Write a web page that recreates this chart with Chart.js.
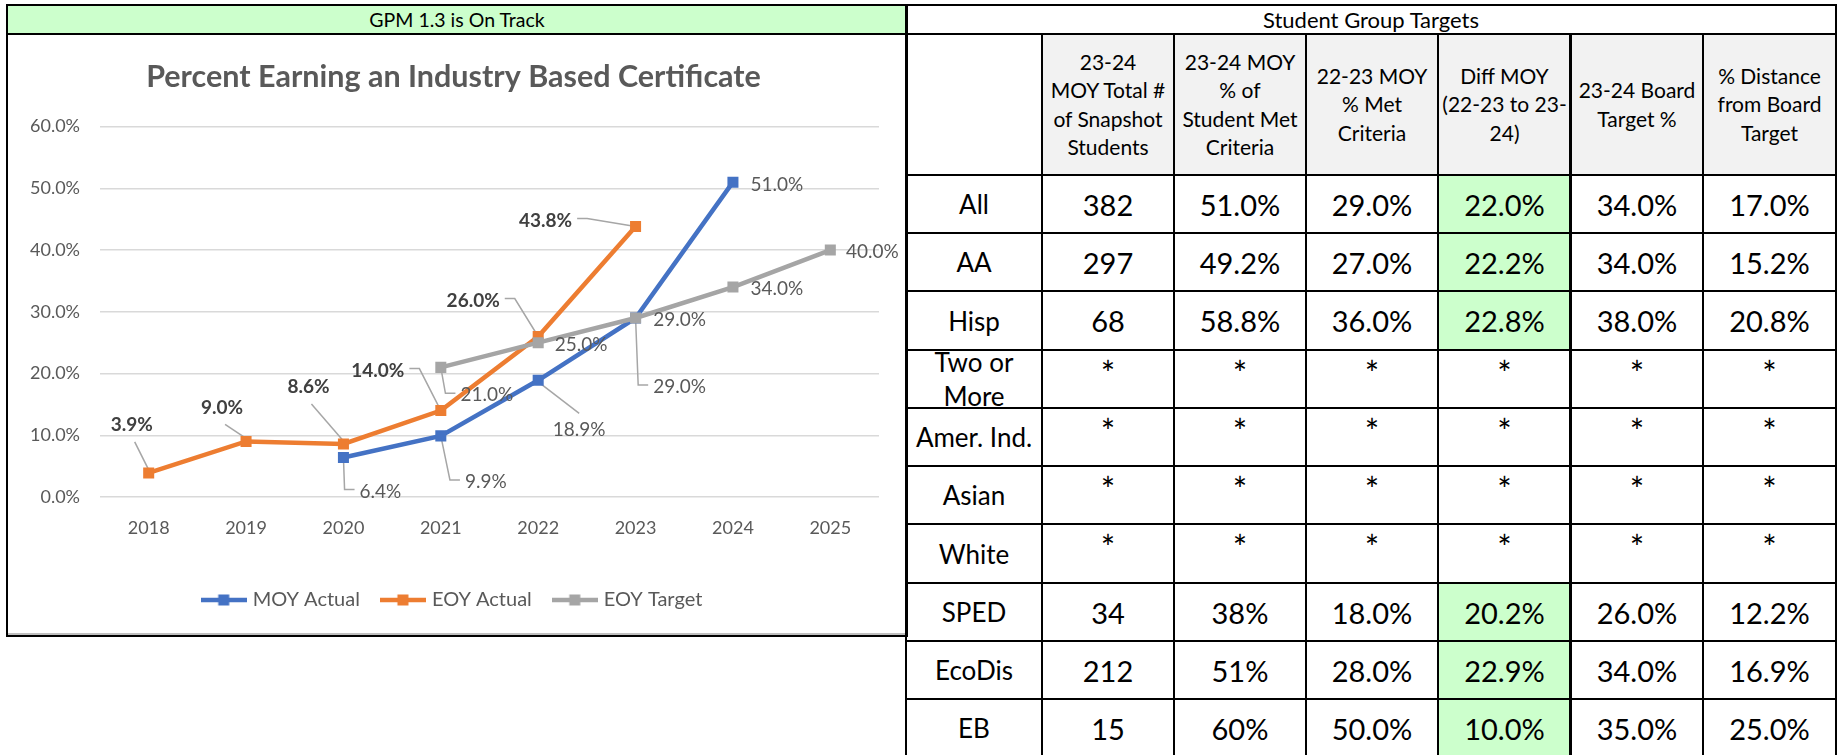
<!DOCTYPE html>
<html>
<head>
<meta charset="utf-8">
<script src="https://cdn.jsdelivr.net/npm/chart.js@4.4.1/dist/chart.umd.min.js"></script>
<style>
  body { margin: 0; width: 1837px; height: 755px; overflow: hidden; background: #fff;
         font-family: Lato, "Open Sans", sans-serif; color: #000; }
  #gpm { position: absolute; left: 6px; top: 4px; width: 902px; height: 31px; box-sizing: border-box;
         border: 2px solid #000; background: #ccffcc; text-align: center; font-size: 19.5px; line-height: 27px; }
  #chartBox { position: absolute; left: 6px; top: 33px; width: 902px; height: 604px; box-sizing: border-box;
              border: 2px solid #000; box-shadow: inset 0 -2px 0 #bfbfbf; }
  #chart { position: absolute; left: 8px; top: 35px; }
  .cell { position: absolute; box-sizing: border-box; border: 2px solid #000; display: flex;
          align-items: center; justify-content: center; text-align: center; white-space: nowrap; overflow: visible; }
  .title { font-size: 22px; }
  .head { background: #f2f2f2; font-size: 21px; line-height: 28.5px; }
  .grp { font-size: 26px; line-height: 34px; white-space: normal; }
  .val { font-size: 29px; }
  .star { font-size: 34px; padding-bottom: 14px; }
  .green { background: #ccffcc; }
</style>
</head>
<body>
<div id="gpm">GPM 1.3 is On Track</div>
<div id="chartBox"></div>
<canvas id="chart" width="897" height="599"></canvas>
<div id="table"></div>
<script>
// chart data
const years = ['2018', '2019', '2020', '2021', '2022', '2023', '2024', '2025'];
const moyActual = [null, null, 6.4, 9.9, 18.9, 29.0, 51.0, null];
const eoyActual = [3.9, 9.0, 8.6, 14.0, 26.0, 43.8, null, null];
const eoyTarget = [null, null, null, 21.0, 25.0, 29.0, 34.0, 40.0];

// table data
const tableTitle = 'Student Group Targets';
const headerLines = [
  ['23-24', 'MOY Total #', 'of Snapshot', 'Students'],
  ['23-24 MOY', '% of', 'Student Met', 'Criteria'],
  ['22-23 MOY', '% Met', 'Criteria'],
  ['Diff MOY', '(22-23 to 23-', '24)'],
  ['23-24 Board', 'Target %'],
  ['% Distance', 'from Board', 'Target']
];
const groups = ['All', 'AA', 'Hisp', 'Two or More', 'Amer. Ind.', 'Asian', 'White', 'SPED', 'EcoDis', 'EB'];
const snapshotTotal = ['382', '297', '68', '*', '*', '*', '*', '34', '212', '15'];
const moyPctMet = ['51.0%', '49.2%', '58.8%', '*', '*', '*', '*', '38%', '51%', '60%'];
const prevMoyPctMet = ['29.0%', '27.0%', '36.0%', '*', '*', '*', '*', '18.0%', '28.0%', '50.0%'];
const diffMoy = ['22.0%', '22.2%', '22.8%', '*', '*', '*', '*', '20.2%', '22.9%', '10.0%'];
const boardTarget = ['34.0%', '34.0%', '38.0%', '*', '*', '*', '*', '26.0%', '34.0%', '35.0%'];
const distFromTarget = ['17.0%', '15.2%', '20.8%', '*', '*', '*', '*', '12.2%', '16.9%', '25.0%'];

// ---- table layout ----
const colEdges = [906, 1042, 1174, 1306, 1438, 1571, 1703, 1836];
const rowEdges = [5, 34, 175, 233, 291, 350, 408, 466, 524, 583, 641, 699, 757];
const tableEl = document.getElementById('table');

function addCell(c0, c1, r, html, cls) {
  const d = document.createElement('div');
  d.className = 'cell ' + cls;
  let x0 = colEdges[c0] - 1, x1 = colEdges[c1] + 1;
  if (c0 === 5 && r > 0) { x0 -= 1; d.style.borderLeftWidth = '3px'; }
  d.style.left = x0 + 'px';
  d.style.top = (rowEdges[r] - 1) + 'px';
  d.style.width = (x1 - x0) + 'px';
  d.style.height = (rowEdges[r + 1] - rowEdges[r] + 2) + 'px';
  d.innerHTML = html;
  tableEl.appendChild(d);
}

addCell(0, 7, 0, tableTitle, 'title');
addCell(0, 1, 1, '', '');
headerLines.forEach((lines, i) => addCell(i + 1, i + 2, 1, lines.join('<br>'), 'head'));
const columns = [snapshotTotal, moyPctMet, prevMoyPctMet, diffMoy, boardTarget, distFromTarget];
groups.forEach((g, r) => {
  addCell(0, 1, r + 2, g, 'grp');
  columns.forEach((col, c) => {
    const v = col[r];
    const cls = v === '*' ? 'val star' : (c === 3 ? 'val green' : 'val');
    addCell(c + 1, c + 2, r + 2, v, cls);
  });
});

// ---- chart ----
const FONT = 'Lato, "Open Sans", sans-serif';
Chart.defaults.font.family = FONT;

function legendIcon(color) {
  const c = document.createElement('canvas');
  c.width = 46; c.height = 14;
  const g = c.getContext('2d');
  g.strokeStyle = color; g.lineWidth = 4.5;
  g.beginPath(); g.moveTo(0, 7); g.lineTo(46, 7); g.stroke();
  g.fillStyle = color; g.fillRect(17.5, 1.5, 11, 11);
  return c;
}

// label placement relative to each point: dx, dy to text centre, leader style
const labelSpots = [
  [null, null, { dx: 37, dy: 34, lead: 'right' }, { dx: 45, dy: 46, lead: 'right' },
   { dx: 41, dy: 50, lead: 'up' }, { dx: 44, dy: 69, lead: 'right' }, { dx: 44, dy: 3 }, null],
  [{ dx: -17, dy: -48, lead: 'down' }, { dx: -24, dy: -34, lead: 'down' }, { dx: -35, dy: -57, lead: 'down' },
   { dx: -63, dy: -40, lead: 'left' }, { dx: -65, dy: -36, lead: 'left' }, { dx: -90, dy: -6, lead: 'left' }, null, null],
  [null, null, null, { dx: 46, dy: 28, lead: 'right' }, { dx: 43, dy: 2 }, { dx: 44, dy: 2 },
   { dx: 44, dy: 2 }, { dx: 42, dy: 2 }]
];
const labelBold = [false, true, false];

function labelFont(di) {
  return (labelBold[di] ? 'bold ' : '') + '19px ' + FONT;
}

const dataLabels = {
  id: 'dataLabels',
  beforeDatasetsDraw(chart) {
    const ctx = chart.ctx;
    ctx.save();
    ctx.strokeStyle = '#a6a6a6';
    ctx.lineWidth = 1.5;
    chart.data.datasets.forEach((ds, di) => {
      const meta = chart.getDatasetMeta(di);
      ds.data.forEach((v, i) => {
        const s = labelSpots[di][i];
        if (v == null || !s || !s.lead) return;
        const p = meta.data[i];
        const lx = p.x + s.dx, ly = p.y + s.dy;
        ctx.font = labelFont(di);
        const hw = ctx.measureText(v.toFixed(1) + '%').width / 2;
        ctx.beginPath();
        if (s.lead === 'down') {
          ctx.moveTo(lx + 3, ly + 17);
          ctx.lineTo(p.x, p.y - 3);
        } else if (s.lead === 'up') {
          ctx.moveTo(lx, ly - 17);
          ctx.lineTo(p.x + 2, p.y + 3);
        } else if (s.lead === 'left') {
          ctx.moveTo(lx + hw + 5, ly - 2);
          ctx.lineTo(lx + hw + 15, ly - 2);
          ctx.lineTo(p.x, p.y);
        } else {
          ctx.moveTo(lx - hw - 5, ly - 2);
          ctx.lineTo(lx - hw - 15, ly - 2);
          ctx.lineTo(p.x, p.y);
        }
        ctx.stroke();
      });
    });
    ctx.restore();
  },
  afterDatasetsDraw(chart) {
    const ctx = chart.ctx;
    ctx.save();
    ctx.textAlign = 'center';
    ctx.textBaseline = 'middle';
    chart.data.datasets.forEach((ds, di) => {
      const meta = chart.getDatasetMeta(di);
      ctx.font = labelFont(di);
      ctx.fillStyle = labelBold[di] ? '#404040' : '#595959';
      ds.data.forEach((v, i) => {
        const s = labelSpots[di][i];
        if (v == null || !s) return;
        const p = meta.data[i];
        ctx.fillText(v.toFixed(1) + '%', p.x + s.dx, p.y + s.dy);
      });
    });
    ctx.restore();
  }
};

function lineSet(label, data, color, order) {
  return {
    label, data, order,
    borderColor: color, backgroundColor: color,
    borderWidth: 4.5, tension: 0,
    pointStyle: 'rect', pointRadius: 7.8, pointHoverRadius: 7.8,
    pointBackgroundColor: color, pointBorderColor: color, pointBorderWidth: 0
  };
}

new Chart(document.getElementById('chart').getContext('2d'), {
  type: 'line',
  data: {
    labels: years,
    datasets: [
      lineSet('MOY Actual', moyActual, '#4472c4', 3),
      lineSet('EOY Actual', eoyActual, '#ed7d31', 2),
      lineSet('EOY Target', eoyTarget, '#a5a5a5', 1)
    ]
  },
  options: {
    responsive: false,
    animation: false,
    devicePixelRatio: 1,
    layout: { padding: { left: 20, right: 26, top: 0, bottom: 14 } },
    plugins: {
      tooltip: { enabled: false },
      title: {
        display: true,
        text: 'Percent Earning an Industry Based Certificate',
        color: '#595959',
        font: { size: 30.5, weight: 'bold' },
        padding: { top: 24, bottom: 31 }
      },
      legend: {
        position: 'bottom',
        labels: {
          color: '#595959',
          font: { size: 20 },
          padding: 24,
          usePointStyle: true,
          pointStyleWidth: 38,
          sort: (a, b) => a.datasetIndex - b.datasetIndex,
          generateLabels: chart => chart.data.datasets.map((ds, i) => ({
            text: ds.label,
            pointStyle: legendIcon(ds.borderColor),
            fillStyle: ds.borderColor,
            strokeStyle: ds.borderColor,
            lineWidth: 0,
            fontColor: '#595959',
            datasetIndex: i,
            hidden: false
          }))
        }
      }
    },
    scales: {
      x: {
        offset: true,
        grid: { display: false, offset: true },
        border: { display: false },
        ticks: { color: '#595959', font: { size: 18 }, padding: 12 },
        afterFit: s => { s.height = 69; }
      },
      y: {
        min: 0, max: 60,
        grid: { color: '#d9d9d9', lineWidth: 1.5, drawTicks: false },
        border: { display: false },
        ticks: { stepSize: 10, color: '#595959', font: { size: 18 }, padding: 20,
                 callback: v => v.toFixed(1) + '%' },
        afterFit: s => { s.width = 72; }
      }
    }
  },
  plugins: [dataLabels]
});
</script>
</body>
</html>
